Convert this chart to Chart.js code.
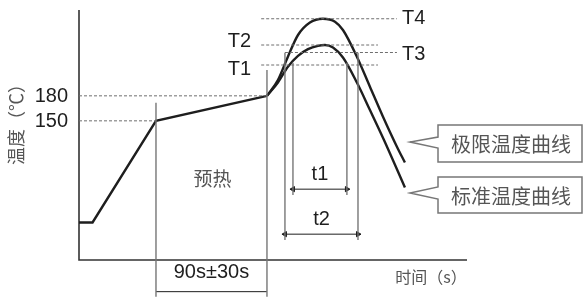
<!DOCTYPE html>
<html>
<head>
<meta charset="utf-8">
<script src="https://cdn.jsdelivr.net/npm/chart.js@4.4.1/dist/chart.umd.min.js"></script>
<style>
  html, body { margin: 0; padding: 0; background: #fff; }
  #wrap { width: 587px; height: 302px; }
</style>
</head>
<body>
<div id="wrap"><canvas id="profile" width="587" height="302"></canvas></div>
<script>
// ================= DATA =================
// time (s) / temperature (°C)
const preheatTime = [0, 11, 62.5, 152.6];
const preheatTemp = [28, 28, 150, 180];

const stdTime = [152.6, 161.5, 169.6, 177.8, 185.9, 194, 199.7, 206.2, 214.3, 225.6, 236.2, 247.6, 264.6];
const stdTemp = [180, 196, 215, 228, 236, 240, 241, 238, 226, 196, 163, 127, 70];

const limTime = [152.6, 161.5, 169.6, 177.8, 187.5, 198, 207.8, 214.3, 225.6, 236.2, 246.8, 258.1, 264.6];
const limTemp = [180, 199, 227, 253, 268, 272.5, 269, 259, 227, 191, 155, 119, 100];

const yTicks = [150, 180];
const tickLineEnd = [62.5, 152.6];

const levelNames = ["T1", "T2", "T3", "T4"];
const levelTemps = [217, 241, 232, 272.5];
const levelStart = [147.9, 147.9, 167.2, 147.9];
const levelEnd = [242.7, 242.7, 258.1, 258.1];

// vertical marker lines: time, top temp, bottom temp
const markTime = [62.5, 152.6, 167.2, 173.7, 217.5, 226.5];
const markTop = [171.6, 211, 231.6, 219.6, 219.6, 231.6];
const markBottom = [-61, -61, 7, 61, 61, 7];

// dimension arrows
const spanNames = ["90s±30s", "t1", "t2"];
const spanFrom = [62.5, 173.7, 167.2];
const spanTo = [152.6, 217.5, 226.5];
const spanLevel = [-55, 68, 14];

const curveNames = ["极限温度曲线", "标准温度曲线"];

// ================= STYLE =================
const INK = "#1e1e1e";
const GREY = "#6f6f6f";
const numFont = "20px 'Liberation Sans', Arial, sans-serif";
const cjkFont = "'Noto Sans CJK SC', sans-serif";
const levelLabelDy = [4, -4, 2, 0];
const labelRight = [false, false, true, true]; // T3/T4 sit at the right end

function pts(xs, ys) {
  return xs.map((x, i) => ({ x: x, y: ys[i] }));
}

const datasets = [];

// dashed reference lines
yTicks.forEach((v, i) => {
  datasets.push({ data: [{ x: 0, y: v }, { x: tickLineEnd[i], y: v }], borderColor: GREY, borderWidth: 1, borderDash: [3, 2], pointRadius: 0 });
});
levelTemps.forEach((v, i) => {
  datasets.push({ data: [{ x: levelStart[i], y: v }, { x: levelEnd[i], y: v }], borderColor: GREY, borderWidth: 1, borderDash: [3, 2], pointRadius: 0 });
});

// vertical markers
markTime.forEach((t, i) => {
  datasets.push({ data: [{ x: t, y: markTop[i] }, { x: t, y: markBottom[i] }], borderColor: "#777", borderWidth: 1.4, pointRadius: 0, clip: false });
});

// arrows
spanFrom.forEach((a, i) => {
  datasets.push({
    data: [{ x: a, y: spanLevel[i] }, { x: spanTo[i], y: spanLevel[i] }],
    borderColor: INK, backgroundColor: INK, borderWidth: 1,
    pointStyle: "triangle", pointRadius: 3, rotation: [-90, 90],
    clip: false
  });
});

// curves
datasets.push({ data: pts(preheatTime, preheatTemp), borderColor: INK, borderWidth: 2.4, pointRadius: 0, tension: 0 });
datasets.push({ data: pts(stdTime, stdTemp), borderColor: INK, borderWidth: 2.4, pointRadius: 0, cubicInterpolationMode: "monotone" });
datasets.push({ data: pts(limTime, limTemp), borderColor: INK, borderWidth: 2.4, pointRadius: 0, cubicInterpolationMode: "monotone" });

// ================= OVERLAY =================
const overlay = {
  id: "overlay",
  beforeDatasetsDraw(chart) {
    const { ctx, chartArea: a } = chart;
    ctx.save();
    ctx.strokeStyle = "#333";
    ctx.lineWidth = 1.6;
    ctx.beginPath();
    ctx.moveTo(a.left, a.top);
    ctx.lineTo(a.left, a.bottom);
    ctx.lineTo(a.right, a.bottom);
    ctx.stroke();
    ctx.restore();
  },
  afterDatasetsDraw(chart) {
    const { ctx, chartArea: a } = chart;
    const xs = chart.scales.x, ys = chart.scales.y;
    ctx.save();

    // y tick labels
    ctx.fillStyle = INK;
    ctx.font = numFont;
    ctx.textBaseline = "middle";
    ctx.textAlign = "right";
    yTicks.forEach(v => ctx.fillText(String(v), a.left - 11, ys.getPixelForValue(v) + 1));

    // level labels
    levelNames.forEach((n, i) => {
      const y = ys.getPixelForValue(levelTemps[i]) + levelLabelDy[i];
      if (labelRight[i]) {
        ctx.textAlign = "left";
        ctx.fillText(n, xs.getPixelForValue(levelEnd[i]) + 5, y);
      } else {
        ctx.textAlign = "right";
        ctx.fillText(n, xs.getPixelForValue(levelStart[i]) - 10, y);
      }
    });

    // span labels
    ctx.textAlign = "center";
    ctx.textBaseline = "alphabetic";
    spanNames.forEach((n, i) => {
      const cx = (xs.getPixelForValue(spanFrom[i]) + xs.getPixelForValue(spanTo[i])) / 2;
      const y = ys.getPixelForValue(spanLevel[i]);
      ctx.fillText(n, cx, y - (i === 0 ? 14 : 9));
    });

    // preheat label
    ctx.fillStyle = "#555";
    ctx.font = "19px " + cjkFont;
    ctx.textBaseline = "middle";
    ctx.fillText("预热", (xs.getPixelForValue(spanFrom[0]) + xs.getPixelForValue(spanTo[0])) / 2 + 1, 179);

    // axis titles
    ctx.font = "16px " + cjkFont;
    ctx.fillText("时间（s）", a.right - 36, a.bottom + 17);
    ctx.save();
    ctx.translate(16, 120);
    ctx.rotate(-Math.PI / 2);
    ctx.font = "18px " + cjkFont;
    ctx.fillText("温度（℃）", 0, 0);
    ctx.restore();

    // callout boxes
    const boxes = [
      { top: 125, bottom: 162, tipY: 142, w1: 137, w2: 148 },
      { top: 177, bottom: 213, tipY: 193, w1: 187, w2: 199 }
    ];
    const bl = 438, br = 582, tipX = 410;
    ctx.strokeStyle = "#777";
    ctx.lineWidth = 1.5;
    boxes.forEach((b, i) => {
      ctx.beginPath();
      ctx.moveTo(bl, b.w1);
      ctx.lineTo(bl, b.top);
      ctx.lineTo(br, b.top);
      ctx.lineTo(br, b.bottom);
      ctx.lineTo(bl, b.bottom);
      ctx.lineTo(bl, b.w2);
      ctx.lineTo(tipX, b.tipY);
      ctx.closePath();
      ctx.stroke();
      ctx.fillStyle = "#555";
      ctx.font = "20px " + cjkFont;
      ctx.textAlign = "center";
      ctx.fillText(curveNames[i], (bl + br) / 2 + 1, (b.top + b.bottom) / 2 + 1);
    });

    ctx.restore();
  }
};

// ================= CHART =================
new Chart(document.getElementById("profile"), {
  type: "line",
  data: { datasets: datasets },
  options: {
    responsive: false,
    animation: false,
    layout: { padding: { left: 79, right: 120, top: 10, bottom: 42 } },
    plugins: { legend: { display: false }, tooltip: { enabled: false } },
    elements: { line: { fill: false } },
    scales: {
      x: { type: "linear", min: 0, max: 315, display: false },
      y: { type: "linear", min: -17, max: 283, display: false }
    }
  },
  plugins: [overlay]
});
</script>
</body>
</html>
